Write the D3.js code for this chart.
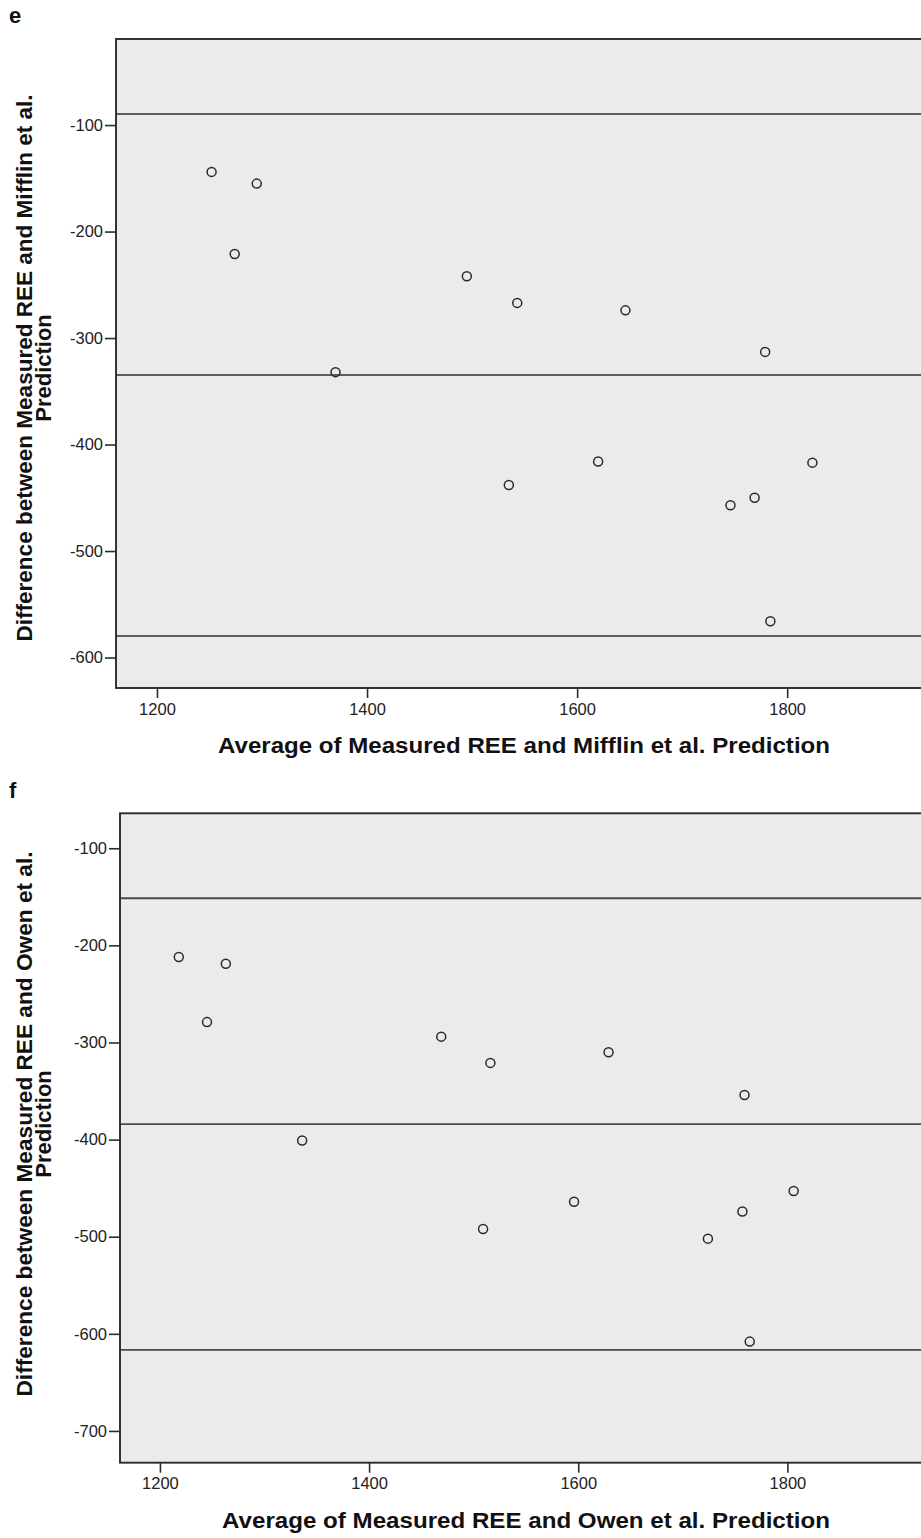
<!DOCTYPE html>
<html>
<head>
<meta charset="utf-8">
<script src="https://cdn.jsdelivr.net/npm/d3@7"></script>
<style>
  body { margin: 0; background: #fff; }
  svg { display: block; font-family: "Liberation Sans", Arial, sans-serif; }
</style>
</head>
<body>
<div id="chart"></div>
<script>
// panel e : Mifflin et al.
var eAvg  = [1252, 1295, 1274, 1370, 1495, 1543, 1646, 1535, 1620, 1779, 1824, 1769, 1746, 1784];
var eDiff = [-144, -155, -221, -332, -242, -267, -274, -438, -416, -313, -417, -450, -457, -566];
var eLines = [-89.7, -334.7, -579.8];   // upper limit, mean, lower limit
var eYTicks = [-100, -200, -300, -400, -500, -600];

// panel f : Owen et al.
var fAvg  = [1218, 1263, 1245, 1336, 1469, 1516, 1629, 1509, 1596, 1759, 1806, 1757, 1724, 1764];
var fDiff = [-212, -219, -279, -401, -294, -321, -310, -492, -464, -354, -453, -474, -502, -608];
var fLines = [-151.5, -384, -616.6];
var fYTicks = [-100, -200, -300, -400, -500, -600, -700];

var xTicks = [1200, 1400, 1600, 1800];

var svg = d3.select("#chart")
  .append("svg")
    .attr("width", 921)
    .attr("height", 1538)
    .style("overflow", "hidden");

function drawPanel(p) {
  var x = d3.scaleLinear().domain(p.xDomain).range([p.left, p.right]);
  var y = d3.scaleLinear().domain(p.yDomain).range([p.bottom, p.top]);
  var g = svg.append("g");

  // panel letter
  g.append("text")
    .attr("x", 9).attr("y", p.letterY)
    .attr("font-size", 22).attr("font-weight", "bold")
    .attr("fill", "#111")
    .text(p.letter);

  // plot background
  g.append("rect")
    .attr("x", p.left).attr("y", p.top)
    .attr("width", p.right - p.left).attr("height", p.bottom - p.top)
    .attr("fill", "#ebebeb");

  // reference lines (limits of agreement + mean)
  g.selectAll(".ref")
    .data(p.lines)
    .enter().append("line")
      .attr("x1", p.left).attr("x2", p.right)
      .attr("y1", function(d) { return y(d); })
      .attr("y2", function(d) { return y(d); })
      .attr("stroke", p.lineColor)
      .attr("stroke-width", p.lineWidth);

  // points
  g.selectAll(".pt")
    .data(p.avg)
    .enter().append("circle")
      .attr("cx", function(d) { return x(d); })
      .attr("cy", function(d, i) { return y(p.diff[i]); })
      .attr("r", 4.5)
      .attr("fill", "none")
      .attr("stroke", "#2a2a2a")
      .attr("stroke-width", 1.5);

  // frame
  g.append("rect")
    .attr("x", p.left).attr("y", p.top)
    .attr("width", p.right - p.left).attr("height", p.bottom - p.top)
    .attr("fill", "none")
    .attr("stroke", "#2b2b2b")
    .attr("stroke-width", 1.9);

  // y axis
  var yAx = g.append("g")
    .attr("transform", "translate(" + p.left + ",0)")
    .call(d3.axisLeft(y).tickValues(p.yTicks).tickSize(11).tickPadding(2));
  yAx.select(".domain").remove();
  yAx.selectAll("line").attr("stroke", "#2b2b2b").attr("stroke-width", 1.6);
  yAx.selectAll("text")
    .attr("font-size", 16.5)
    .attr("font-family", "Liberation Sans, Arial, sans-serif")
    .attr("fill", "#222")
    .text(function(d) { return d3.format("d")(d).replace("−", "-"); });

  // x axis
  var xAx = g.append("g")
    .attr("transform", "translate(0," + p.bottom + ")")
    .call(d3.axisBottom(x).tickValues(xTicks).tickSize(10).tickPadding(5));
  xAx.select(".domain").remove();
  xAx.selectAll("line").attr("stroke", "#2b2b2b").attr("stroke-width", 1.6);
  xAx.selectAll("text")
    .attr("font-size", 16.5)
    .attr("font-family", "Liberation Sans, Arial, sans-serif")
    .attr("fill", "#222")
    .text(function(d) { return d; });

  // x title
  g.append("text")
    .attr("x", p.xTitleX).attr("y", p.xTitleY)
    .attr("text-anchor", "middle")
    .attr("font-size", 22).attr("font-weight", "bold")
    .attr("fill", "#111")
    .attr("textLength", p.xTitleLen)
    .attr("lengthAdjust", "spacingAndGlyphs")
    .text(p.xTitle);

  // y title, two lines
  var yt = g.append("text")
    .attr("transform", "translate(0," + p.yTitleY + ") rotate(-90)")
    .attr("text-anchor", "middle")
    .attr("font-size", 22).attr("font-weight", "bold")
    .attr("fill", "#111");
  yt.append("tspan").attr("x", 0).attr("y", 32)
    .attr("textLength", p.yTitleLen)
    .attr("lengthAdjust", "spacingAndGlyphs")
    .text(p.yTitle[0]);
  yt.append("tspan").attr("x", 0).attr("y", 51).text(p.yTitle[1]);
}

drawPanel({
  letter: "e", letterY: 23,
  left: 116, right: 950, top: 39, bottom: 688,
  xDomain: [1161, 1955], yDomain: [-628.6, -19.2],
  avg: eAvg, diff: eDiff, lines: eLines, yTicks: eYTicks,
  lineColor: "#2e2e2e", lineWidth: 1.5,
  xTitle: "Average of Measured REE and Mifflin et al. Prediction",
  xTitleX: 524, xTitleY: 753, xTitleLen: 612,
  yTitle: ["Difference between Measured REE and Mifflin et al.", "Prediction"],
  yTitleY: 368, yTitleLen: 547
});

drawPanel({
  letter: "f", letterY: 798,
  left: 120, right: 954.7, top: 813.3, bottom: 1462.7,
  xDomain: [1161.8, 1960], yDomain: [-732.7, -64],
  avg: fAvg, diff: fDiff, lines: fLines, yTicks: fYTicks,
  lineColor: "#4a4a4a", lineWidth: 1.8,
  xTitle: "Average of Measured REE and Owen et al. Prediction",
  xTitleX: 526, xTitleY: 1528, xTitleLen: 608,
  yTitle: ["Difference between Measured REE and Owen et al.", "Prediction"],
  yTitleY: 1124, yTitleLen: 545
});
</script>
</body>
</html>
